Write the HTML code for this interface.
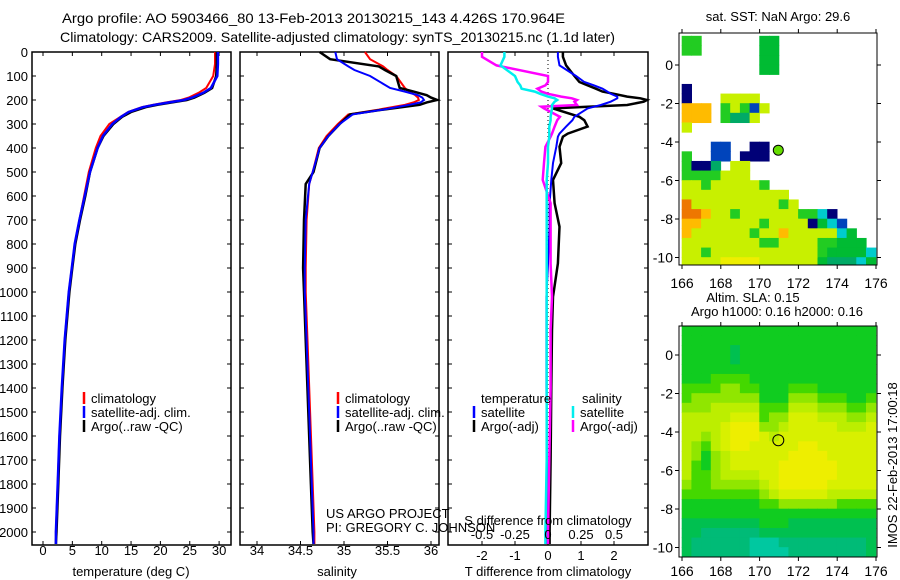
<!DOCTYPE html>
<html><head><meta charset="utf-8"><style>
body{margin:0;background:#fff}
svg{display:block;font-family:"Liberation Sans",sans-serif}
text{font-size:13px;fill:#000}
</style></head><body>
<svg id="s" width="900" height="580" viewBox="0 0 900 580">
<text x="62" y="23" style="font-size:14px" textLength="503" lengthAdjust="spacingAndGlyphs">Argo profile: AO 5903466_80 13-Feb-2013 20130215_143 4.426S 170.964E</text>
<text x="60" y="42" style="font-size:14px" textLength="555" lengthAdjust="spacingAndGlyphs">Climatology: CARS2009. Satellite-adjusted climatology: synTS_20130215.nc (1.1d later)</text>
</svg>
<script>
// ---------- data ----------
const tDepth=[0,50,100,150,170,190,200,210,220,230,250,270,300,350,400,500,600,700,800,900,1000,1200,1400,1600,1800,2000,2050];
const tArgo=[29.6,29.6,29.5,28.8,27.5,25.8,24.5,22,19.5,17.5,15,13.5,12,10.3,9.3,8.0,7.2,6.3,5.5,5.0,4.5,3.8,3.3,2.9,2.6,2.3,2.2];
const tSat=[29.8,29.8,29.7,28.6,27.3,25.4,24,21.5,19,17,14.6,13.3,11.8,10.2,9.3,8.0,7.1,6.2,5.4,4.9,4.4,3.7,3.2,2.8,2.5,2.2,2.2];
const tClim=[29.3,29.3,29.0,27.8,26.5,24.8,23.5,21,18.7,16.8,14.5,13.2,11.3,9.8,9.0,7.8,7.0,6.2,5.4,4.9,4.4,3.7,3.3,2.8,2.5,2.2,2.2];
const sDepth=[0,30,60,75,100,150,165,180,190,200,210,220,240,260,300,350,400,500,550,700,900,1000,1200,1500,1800,2000,2050];
const sArgo=[34.72,34.84,35.4,35.47,35.6,35.64,35.8,35.95,36.0,36.07,35.95,35.87,35.45,35.07,34.95,34.82,34.72,34.65,34.56,34.54,34.53,34.54,34.56,34.59,34.62,34.64,34.65];
const sSat=[34.9,34.92,35.05,35.12,35.3,35.53,35.7,35.85,35.9,35.92,35.88,35.75,35.45,35.1,34.95,34.82,34.72,34.64,34.6,34.56,34.55,34.55,34.57,34.6,34.63,34.65,34.65];
const sClim=[35.24,35.3,35.45,35.5,35.6,35.7,35.75,35.82,35.85,35.86,35.8,35.7,35.4,35.05,34.93,34.8,34.71,34.64,34.6,34.57,34.56,34.56,34.58,34.61,34.64,34.66,34.66];
const dDepth=[0,20,56,100,125,139,153,165,174,186,193,200,207,221,228,235,270,284,311,340,353,395,463,533,630,728,881,1020,1158,1400,1700,2000,2050];
const dTArgo=[0.45,0.45,0.55,0.8,0.95,1.2,1.45,1.65,2.0,2.4,2.8,3.0,2.9,2.4,1.2,0.15,0.95,1.1,1.2,0.6,0.45,0.35,0.4,0.15,0.2,0.35,0.3,0.15,0.12,0.1,0.08,0.05,0.05];
const dTSat=[0.3,0.3,0.35,0.85,1.1,1.4,1.65,1.8,1.9,2.1,2.1,2.0,1.9,1.6,1.4,1.2,0.8,0.74,0.55,0.35,0.3,0.25,0.15,0.1,0.05,0.05,0.0,-0.05,-0.05,-0.05,-0.03,-0.02,-0.02];
const dSSat=[-0.33,-0.33,-0.36,-0.25,-0.23,-0.21,-0.2,-0.1,-0.06,0.0,0.05,0.07,0.05,0.03,0.03,0.03,0.02,0.02,0.01,0.01,0.01,0.0,0.0,-0.01,-0.01,-0.01,-0.01,-0.01,-0.01,-0.01,-0.01,-0.02,-0.02];
const dSArgo=[-0.5,-0.5,-0.39,0.0,0.0,-0.02,-0.08,-0.05,0.0,0.1,0.18,0.22,0.2,0.22,-0.05,-0.03,0.09,0.07,0.05,0.03,0.02,-0.02,-0.03,-0.04,0.02,0.02,0.02,0.03,0.02,0.02,0.01,0.0,0.0];
const depthTicks=[0,100,200,300,400,500,600,700,800,900,1000,1100,1200,1300,1400,1500,1600,1700,1800,1900,2000];
const tTicks=[0,5,10,15,20,25,30];
const sTicks=[34,34.5,35,35.5,36];
const dtTicks=[-2,-1,0,1,2];
const dsTicks=[-0.5,-0.25,0,0.25,0.5];
const dsTickLabels=['-0.5','-0.25','0','0.25','0.5'];
const lonTicks=[166,168,170,172,174,176];
const latTicks=[0,-2,-4,-6,-8,-10];
const argoLon=170.964, argoLat=-4.426;
const sstRows=[
"gg......GG..........","gg......GG..........","........GG..........","........GG..........",
"....................","n...................","n...yyyy............","ooo.gygby...........",
"ooo.gtty............","y...................","....................","...bb..nn...........",
"g..bb.nnn...........","gnnt.yy.............","ggggyyy.............","yygyyyyyg...........",
"yyyyyyyyyyy.........","Oyyyyyyyyygy........","OOoyygyyyyyyggcn....","ooyyyyyygyyyynGcb...",
"oyyyyyygyyoyyyyycG..","yyyyyyyyggyyyyggGGG.","yygyyyyyyyyyyygGGGGc","yyyyYYYYyyyyyyGtttcG"];
const slaRows=[
"44444444444444444444","44444444444444444444","44444344444444444444","44444344444444444444",
"44444444444444444444","44455554444444444444","55556655444555444444","56666666444666555445",
"66677777555777666556","77777888566888777667","77778999667888887778","77678999878888888888",
"76578998888899888888","76467888888999988888","75467888889999998888","75567777889999998888",
"65566666789999988888","55555555678888877777","44444444556666665555","44444444444444444444",
"33333333444333333333","33222222333333333333","32222221112222222223","32222221111222222223"];
// ---------- helpers ----------
const S=document.getElementById('s'),NS='http://www.w3.org/2000/svg';
function mk(tag,at,parent){const e=document.createElementNS(NS,tag);for(const k in at)e.setAttribute(k,at[k]);(parent||S).appendChild(e);return e;}
function txt(x,y,s,anchor,size){const e=mk('text',{x:x,y:y,'text-anchor':anchor||'start'});if(size)e.style.fontSize=size+'px';e.textContent=s;return e;}
const yD=d=>52+d*0.24, Y0=52, Y1=545;
function panel(x0,x1,name){const r=mk('rect',{x:x0,y:Y0,width:x1-x0,height:Y1-Y0,fill:'none',stroke:'#000','stroke-width':1.5});

depthTicks.forEach(d=>{const y=yD(d);mk('line',{x1:x0,y1:y,x2:x0+4,y2:y,stroke:'#000'});mk('line',{x1:x1-4,y1:y,x2:x1,y2:y,stroke:'#000'});});}
function xTicks(xs,fx,labels,ylab,top){xs.forEach((v,i)=>{const x=fx(v);mk('line',{x1:x,y1:Y1,x2:x,y2:Y1-4,stroke:'#000'});if(top)mk('line',{x1:x,y1:Y0,x2:x,y2:Y0+4,stroke:'#000'});
const t=txt(x,ylab,labels[i],'middle');});}
function line(vals,depths,fx,color,w,name){const p=vals.map((v,i)=>fx(v).toFixed(1)+','+yD(depths[i]).toFixed(1)).join(' ');
const e=mk('polyline',{points:p,fill:'none',stroke:color,'stroke-width':w,'stroke-linejoin':'miter'});
}
function legend(x,y,items){items.forEach((it,i)=>{mk('line',{x1:x,y1:y+i*14-6,x2:x,y2:y+i*14+6,stroke:it[1],'stroke-width':2.5});
const t=txt(x+7,y+i*14+5,it[0]);});}
// ---------- panel 1 ----------
const xT=v=>43+v*5.87;
panel(32,231,'temperature-panel');
depthTicks.forEach(d=>{const t=txt(28,yD(d)+5,String(d),'end');});
xTicks(tTicks,xT,tTicks.map(String),555,true);
line(tClim,tDepth,xT,'#f00',2,'temp-climatology-line');
line(tArgo,tDepth,xT,'#000',2.5,'temp-argo-line');
line(tSat,tDepth,xT,'#00f',2.5,'temp-satellite-line');
legend(84,398,[['climatology','#f00'],['satellite-adj. clim.','#00f'],['Argo(..raw -QC)','#000']]);
txt(131,576,'temperature (deg C)','middle');
// ---------- panel 2 ----------
const xS=v=>257+(v-34)*87;
panel(240,439,'salinity-panel');
xTicks(sTicks,xS,sTicks.map(String),555,true);
line(sClim,sDepth,xS,'#f00',2,'sal-climatology-line');
line(sArgo,sDepth,xS,'#000',2.5,'sal-argo-line');
line(sSat,sDepth,xS,'#00f',2,'sal-satellite-line');
legend(338,398,[['climatology','#f00'],['satellite-adj. clim.','#00f'],['Argo(..raw -QC)','#000']]);
txt(337,576,'salinity','middle');
txt(326,518,'US ARGO PROJECT');txt(326,532,'PI: GREGORY C. JOHNSON');
// ---------- panel 3 ----------
const xDT=v=>548+v*33, xDS=v=>548+v*132;
panel(448,648,'difference-panel');
mk('line',{x1:548,y1:Y0,x2:548,y2:Y1,stroke:'#000','stroke-dasharray':'1,3'});
xTicks(dtTicks,xDT,dtTicks.map(String),560,true);
line(dTArgo,dDepth,xDT,'#000',2.5,'tdiff-argo-line');
line(dTSat,dDepth,xDT,'#00f',2,'tdiff-satellite-line');
line(dSArgo,dDepth,xDS,'#f0f',2.5,'sdiff-argo-line');
line(dSSat,dDepth,xDS,'#0ee',2.5,'sdiff-satellite-line');
txt(481,403,'temperature');txt(582,403,'salinity');
legend(474,412,[['satellite','#00f'],['Argo(-adj)','#000']]);
legend(573,412,[['satellite','#0ee'],['Argo(-adj)','#f0f']]);
txt(548,525,'S difference from climatology','middle');
dsTicks.forEach((v,i)=>{txt(xDS(v),539,dsTickLabels[i],'middle');});
txt(548,576,'T difference from climatology','middle');
// ---------- maps ----------
const pal={g:'#22cc22',G:'#00bb33',y:'#c8f000',Y:'#eeee00',o:'#ffbb00',O:'#ee7700',n:'#000077',b:'#0044bb',c:'#00cccc',t:'#00aa66'};
const slaPal=['#00aa88','#00c8a0','#00bb77','#00c050','#10cc20','#44d800','#90e600','#bcee00','#d8f000','#eeee00'];
function map(top,bot,lat0y,rows,colorOf,name,labY){
 const xL=v=>682+(v-166)*19.4, yL=v=>lat0y-v*19.25;
 const g=mk('g',{});
 rows.forEach((r,j)=>{for(let i=0;i<r.length;i++){const c=colorOf(r[i]);if(!c)continue;
  const x=xL(166+i*0.5),y=yL(1.5-j*0.5);mk('rect',{x:x-0.3,y:y-0.3,width:10.3,height:10.2,fill:c},g);}});
 mk('rect',{x:676,y:top,width:3,height:bot-top,fill:'#fff'});mk('rect',{x:877,y:top,width:20,height:bot-top,fill:'#fff'});
 mk('rect',{x:679,y:bot,width:200,height:6,fill:'#fff'});
 mk('rect',{x:679,y:top,width:198,height:bot-top,fill:'none',stroke:'#000'});
 lonTicks.forEach(v=>{const x=xL(v);mk('line',{x1:x,y1:top,x2:x,y2:top-4,stroke:'#000'});mk('line',{x1:x,y1:bot,x2:x,y2:bot+4,stroke:'#000'});
  const t=txt(x,labY,String(v),'middle',14);});
 latTicks.forEach(v=>{const y=yL(v);mk('line',{x1:679,y1:y,x2:675,y2:y,stroke:'#000'});mk('line',{x1:877,y1:y,x2:881,y2:y,stroke:'#000'});
  const t=txt(673,y+5,String(v),'end',14);});
 return {xL,yL};
}
const m1=map(33,265,65,sstRows,c=>pal[c],'sst-map',288);
const a1=mk('circle',{cx:m1.xL(argoLon),cy:m1.yL(argoLat),r:5,fill:'#66dd00',stroke:'#000','stroke-width':1});

txt(778,21,'sat. SST: NaN Argo: 29.6','middle');
const m2=map(326,557,355,slaRows,c=>slaPal[+c],'sla-map',576);
const a2=mk('circle',{cx:m2.xL(argoLon),cy:m2.yL(argoLat),r:5.5,fill:'none',stroke:'#000','stroke-width':1});

txt(753,302,'Altim. SLA: 0.15','middle');
txt(777,316,'Argo h1000: 0.16 h2000: 0.16','middle');
const r=txt(0,0,'IMOS 22-Feb-2013 17:00:18','middle',13);r.setAttribute('transform','translate(897,465) rotate(-90)');

</script>
</body></html>
